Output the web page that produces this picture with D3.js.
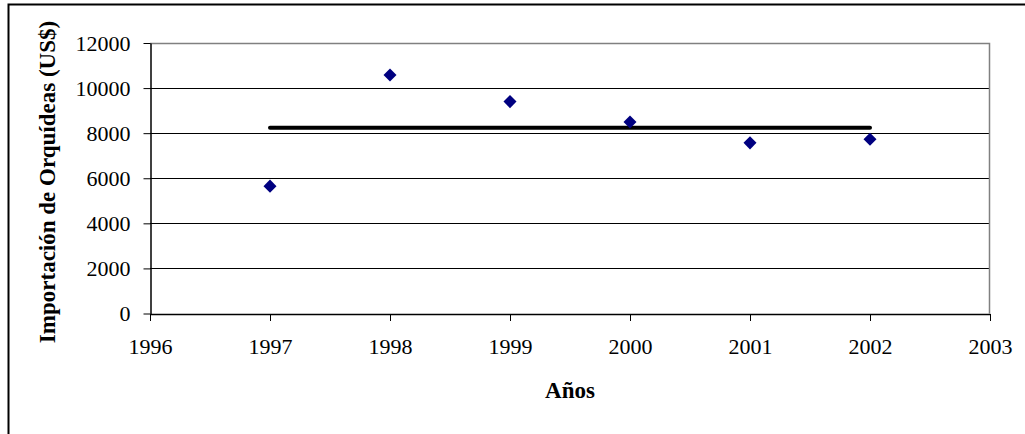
<!DOCTYPE html>
<html>
<head>
<meta charset="utf-8">
<script src="https://cdn.jsdelivr.net/npm/d3@7"></script>
<style>
  html, body { margin: 0; padding: 0; background: #fff; }
  svg { display: block; }
</style>
</head>
<body>
<svg id="chart" width="1025" height="434"></svg>
<script>
// Data
var years = [1997, 1998, 1999, 2000, 2001, 2002];
var imports = [5650, 10580, 9400, 8500, 7570, 7730];
var meanValue = 8240;
var yTicks = [0, 2000, 4000, 6000, 8000, 10000, 12000];
var xTicks = [1996, 1997, 1998, 1999, 2000, 2001, 2002, 2003];

(function () {
  'use strict';

  var FONT = "'Liberation Serif', 'Times New Roman', serif";
  var svg = d3.select('#chart');
  var plot = { left: 150, right: 990, top: 43, bottom: 313.5 };

  var x = d3.scaleLinear().domain([1996, 2003]).range([plot.left, plot.right]);
  var y = d3.scaleLinear().domain([0, 12000]).range([plot.bottom, plot.top]);

  // outer frame (only top/left visible in the reference)
  svg.append('path')
    .attr('d', 'M8.5,434 V4.5 H1025')
    .attr('fill', 'none')
    .attr('stroke', '#000')
    .attr('stroke-width', 2);

  // gridlines
  svg.append('g').selectAll('line')
    .data(yTicks.filter(function (d) { return d > 0 && d < 12000; }))
    .join('line')
    .attr('x1', plot.left).attr('x2', plot.right)
    .attr('y1', function (d) { return Math.round(y(d)) + 0.5; })
    .attr('y2', function (d) { return Math.round(y(d)) + 0.5; })
    .attr('stroke', '#000')
    .attr('stroke-width', 1);

  // plot-area border top/right (gray)
  svg.append('path')
    .attr('d', 'M' + plot.left + ',' + (plot.top + 0.5) + ' H' + (plot.right - 0.5) + ' V' + plot.bottom)
    .attr('fill', 'none')
    .attr('stroke', '#808080')
    .attr('stroke-width', 1.5);

  // y axis
  var yAxis = d3.axisLeft(y).tickValues(yTicks).tickFormat(d3.format('d'))
    .tickSize(7).tickSizeOuter(0).tickPadding(13);
  var gy = svg.append('g')
    .attr('transform', 'translate(' + (plot.left + 0.5) + ',0)')
    .call(yAxis);
  gy.select('.domain').attr('stroke', '#000').attr('stroke-width', 1.5);
  gy.selectAll('.tick line').attr('stroke', '#000');
  gy.selectAll('.tick text')
    .style('font-size', '22px')
    .style('font-family', FONT)
    .attr('fill', '#000');

  // x axis
  var xAxis = d3.axisBottom(x).tickValues(xTicks).tickFormat(d3.format('d'))
    .tickSize(7).tickSizeOuter(0).tickPadding(17);
  var gx = svg.append('g')
    .attr('transform', 'translate(0,' + (plot.bottom + 0.5) + ')')
    .call(xAxis);
  gx.select('.domain').attr('stroke', '#000').attr('stroke-width', 1.5);
  gx.selectAll('.tick line').attr('stroke', '#000');
  gx.selectAll('.tick text')
    .style('font-size', '22px')
    .style('font-family', FONT)
    .attr('fill', '#000');

  // mean line
  svg.append('line')
    .attr('x1', x(years[0])).attr('x2', x(years[years.length - 1]))
    .attr('y1', y(meanValue)).attr('y2', y(meanValue))
    .attr('stroke', '#000')
    .attr('stroke-width', 4)
    .attr('stroke-linecap', 'round');

  // data points (diamonds)
  var diamond = d3.symbol().type(d3.symbolSquare).size(85);
  svg.append('g').selectAll('path')
    .data(years.map(function (yr, i) { return { year: yr, value: imports[i] }; }))
    .join('path')
    .attr('d', diamond)
    .attr('transform', function (d) {
      return 'translate(' + x(d.year) + ',' + y(d.value) + ') rotate(45)';
    })
    .attr('fill', '#000080');

  // axis titles
  svg.append('text')
    .attr('x', (plot.left + plot.right) / 2)
    .attr('y', 398)
    .attr('text-anchor', 'middle')
    .style('font-family', FONT)
    .style('font-size', '23px')
    .style('font-weight', 'bold')
    .text('Años');

  svg.append('text')
    .attr('transform', 'translate(55,182) rotate(-90)')
    .attr('text-anchor', 'middle')
    .style('font-family', FONT)
    .style('font-size', '23px')
    .style('font-weight', 'bold')
    .text('Importación de Orquídeas (US$)');
})();
</script>
</body>
</html>
